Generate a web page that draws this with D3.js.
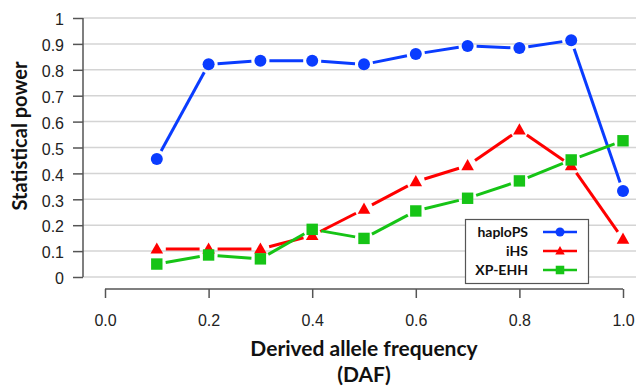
<!DOCTYPE html>
<html><head><meta charset="utf-8">
<script src="https://cdn.jsdelivr.net/npm/d3@7"></script>
<style>body{margin:0;background:#fff}svg{display:block}</style>
</head><body>
<svg id="c" width="636" height="387"></svg>
<script>
const daf = [0.1,0.2,0.3,0.4,0.5,0.6,0.7,0.8,0.9,1.0];
const haploPS = [0.456,0.821,0.835,0.835,0.821,0.861,0.892,0.884,0.914,0.332];
const iHS = [0.108,0.108,0.108,0.160,0.262,0.368,0.430,0.568,0.430,0.146];
const xpEHH = [0.050,0.085,0.070,0.184,0.149,0.255,0.304,0.371,0.452,0.526];
const yTicks = [0,0.1,0.2,0.3,0.4,0.5,0.6,0.7,0.8,0.9,1];
const xTicks = [0,0.2,0.4,0.6,0.8,1.0];
const seriesNames = ["haploPS","iHS","XP-EHH"];
const seriesColors = ["#0a3cff","#ff0000","#16c416"];
const seriesShapes = ["circle","triangle","square"];
const seriesData = [haploPS,iHS,xpEHH];

const svg = d3.select("#c");
const x = d3.scaleLinear().domain([0,1]).range([105,623]);
const y = d3.scaleLinear().domain([0,1]).range([277,18]);
const font = "'Liberation Sans', Arial, sans-serif";
const bold = "Lato, 'Open Sans', sans-serif";

// gridlines
svg.append("g").selectAll("line").data(yTicks).join("line")
  .attr("x1",83).attr("x2",636).attr("y1",d=>y(d)).attr("y2",d=>y(d))
  .attr("stroke","#d4d4d4").attr("stroke-width",1.5);

// y axis
const ya = svg.append("g").attr("transform","translate(83,0)")
  .call(d3.axisLeft(y).tickValues(yTicks).tickSize(10).tickPadding(9).tickFormat(d3.format("")));
ya.select(".domain").attr("stroke","#555").attr("stroke-width",1.5).attr("d","M0,"+y(0)+"V"+y(1));
ya.selectAll(".tick line").attr("stroke","#555").attr("stroke-width",1.5);
ya.selectAll("text").attr("font-family",font).attr("font-size",16).attr("fill","#222").attr("dy","0.42em");

// x axis
const xa = svg.append("g").attr("transform","translate(0,289)")
  .call(d3.axisBottom(x).tickValues(xTicks).tickSize(9).tickPadding(17).tickFormat(d3.format(".1f")));
xa.select(".domain").attr("stroke","#555").attr("stroke-width",1.5).attr("d","M"+x(0)+",0H"+x(1));
xa.selectAll(".tick line").attr("stroke","#555").attr("stroke-width",1.5);
xa.selectAll("text").attr("font-family",font).attr("font-size",16).attr("fill","#222");

// labels
svg.append("text").attr("x",364).attr("y",356).attr("text-anchor","middle")
  .attr("font-family",bold).attr("font-weight","bold").attr("font-size",21).attr("fill","#111")
  .text("Derived allele frequency");
svg.append("text").attr("x",364).attr("y",382).attr("text-anchor","middle")
  .attr("font-family",bold).attr("font-weight","bold").attr("font-size",21).attr("fill","#111")
  .text("(DAF)");
svg.append("text").attr("transform","translate(27,136) rotate(-90)").attr("text-anchor","middle")
  .attr("font-family",bold).attr("font-weight","bold").attr("font-size",20).attr("fill","#111")
  .text("Statistical power");

function marker(g, shape, cx, cy, color, s){
  if(shape==="circle") g.append("circle").attr("cx",cx).attr("cy",cy).attr("r",s).attr("fill",color);
  else if(shape==="triangle") g.append("path").attr("d",`M${cx},${cy-s*1.1}L${cx+s*1.05},${cy+s*0.75}L${cx-s*1.05},${cy+s*0.75}Z`).attr("fill",color);
  else g.append("rect").attr("x",cx-s*0.95).attr("y",cy-s*0.95).attr("width",s*1.9).attr("height",s*1.9).attr("fill",color);
}

const gap = 9;
seriesData.forEach((vals,si)=>{
  const g = svg.append("g");
  const pts = daf.map((d,i)=>[x(d),y(vals[i])]);
  const segs = d3.pairs(pts).map(([a,b])=>{
    const dx=b[0]-a[0], dy=b[1]-a[1], L=Math.hypot(dx,dy);
    if(L<=2*gap) return null;
    const ux=dx/L, uy=dy/L;
    return [[a[0]+ux*gap,a[1]+uy*gap],[b[0]-ux*gap,b[1]-uy*gap]];
  }).filter(Boolean);
  g.selectAll("line").data(segs).join("line")
    .attr("x1",d=>d[0][0]).attr("y1",d=>d[0][1]).attr("x2",d=>d[1][0]).attr("y2",d=>d[1][1])
    .attr("stroke",seriesColors[si]).attr("stroke-width",3);
  pts.forEach(p=>marker(g,seriesShapes[si],p[0],p[1],seriesColors[si],6));
});

// legend
const lg = svg.append("g");
lg.append("rect").attr("x",465.5).attr("y",219.5).attr("width",123).attr("height",64)
  .attr("fill","#fff").attr("stroke","#555").attr("stroke-width",1.2);
seriesNames.forEach((n,i)=>{
  const cy = 232 + i*19;
  lg.append("text").attr("x",528).attr("y",cy+5).attr("text-anchor","end")
    .attr("font-family",bold).attr("font-weight","bold").attr("font-size",14).attr("fill","#111").text(n);
  lg.append("line").attr("x1",543).attr("x2",577).attr("y1",cy).attr("y2",cy)
    .attr("stroke",seriesColors[i]).attr("stroke-width",2.5);
  marker(lg,seriesShapes[i],560,cy,seriesColors[i],4.5);
});
</script>
</body></html>
